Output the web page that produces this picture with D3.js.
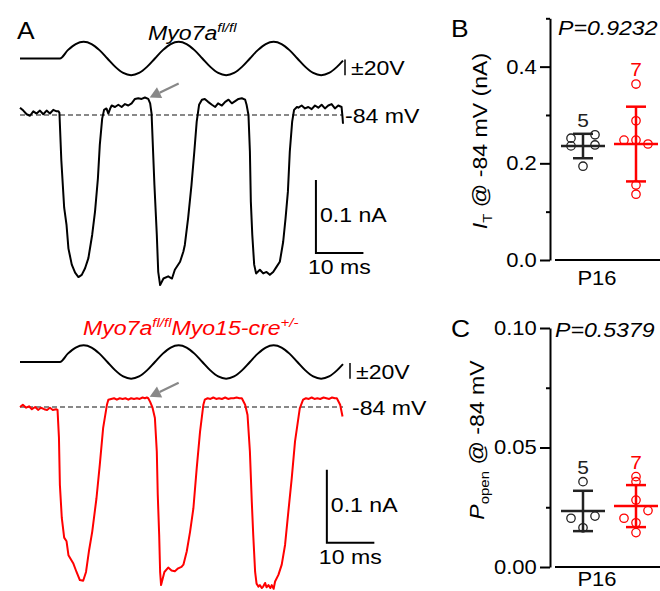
<!DOCTYPE html>
<html>
<head>
<meta charset="utf-8">
<script src="https://cdn.jsdelivr.net/npm/d3@7"></script>
<style>
  body { margin: 0; background: #fff; }
  svg { display: block; }
  text { font-family: "Liberation Sans", Arial, sans-serif; }
</style>
</head>
<body>
<div id="chart"></div>
<script>
const W = 660, H = 591;
const SX = 1.1;   // fonts in the original are a bit wide

// ---- panel A: sinusoidal bundle stimulus (V) ----
const stimT = [0, 8.4, 10.07, 11.73, 13.4, 15.07, 16.73, 18.4, 20.07, 21.73, 23.4, 25.07, 26.73,
  28.4, 30.07, 31.73, 33.4, 35.07, 36.73, 38.4, 40.07, 41.73, 43.4, 45.07, 46.73,
  48.4, 50.07, 51.73, 53.4, 55.07, 56.73, 58.4, 60.07, 61.73, 63.4, 65.07, 66.73, 68.0];
const stimV = [0, 0, 10, 17.3, 20, 17.3, 10, 0, -10, -17.3, -20, -17.3, -10,
  0, 10, 17.3, 20, 17.3, 10, 0, -10, -17.3, -20, -17.3, -10,
  0, 10, 17.3, 20, 17.3, 10, 0, -10, -17.3, -20, -17.3, -10, -2.5];

// ---- panel A: MET currents, [time ms, current pA relative to -84 mV line] ----
const ctrlTrace = [
  [0,10],[0.7,6],[1.4,1],[2.1,-1],[2.8,5],[3.5,2],[4.2,6],[4.9,1],[5.6,6],[6.3,2],[7.0,7],[7.7,5],[8.1,5],[8.3,3],
  [8.7,-62],[9.3,-127],[9.8,-151],[10.2,-183],[10.9,-205],[11.6,-216],[12.3,-222],[13.0,-219],[13.7,-210],[14.4,-196],
  [15.2,-164],[15.8,-132],[16.4,-87],[16.8,-41],[17.3,-5],[17.7,7],
  [18.2,9],[18.6,2],[19.0,9],[19.3,13],[20.0,11],[20.7,14],[21.4,11],[22.1,15],[22.8,13],[23.5,16],[24.2,22],[24.9,23],
  [25.6,22],[26.3,24],[27.0,22],[27.4,16],[27.7,2],
  [28.3,-96],[28.8,-164],[29.1,-215],[29.5,-233],[30.2,-224],[31.2,-221],[32.0,-224],[32.6,-212],[33.7,-201],[34.4,-187],
  [34.7,-178],[35.4,-141],[36.1,-96],[36.7,-50],[37.2,-9],[37.7,14],
  [38.3,21],[38.9,22],[39.6,18],[40.4,14],[41.1,11],[41.7,16],[42.5,13],[43.2,18],[43.9,21],[44.6,16],[45.3,19],[46.0,22],
  [46.7,23],[47.4,21],[47.7,14],[48.1,0],
  [48.4,-50],[48.6,-119],[48.9,-164],[49.3,-205],[49.7,-217],[50.5,-212],[51.2,-217],[51.9,-215],[52.6,-219],[53.3,-215],
  [54.0,-208],[54.7,-201],[55.4,-174],[55.9,-142],[56.4,-105],[56.8,-50],[57.3,-9],[57.7,7],[58.3,11],
  [58.6,10],[59.3,13],[60.0,9],[60.7,11],[61.4,8],[62.1,13],[62.8,10],[63.5,14],[64.2,9],[64.9,13],[65.6,15],[66.3,9],
  [67.0,13],[67.7,11],[67.9,-3],[68.0,-12]
];
const koTrace = [
  [0,0],[0.6,3],[1.3,-1],[1.9,1],[2.5,-3],[3.2,0],[3.8,-4],[4.4,-1],[5.1,-3],[5.7,-4],[6.3,-1],[6.9,-4],[7.6,-3],
  [7.9,-4],[8.2,-42],[8.4,-107],[8.8,-152],[9.3,-179],[9.8,-184],[10.2,-203],[11.2,-214],[11.9,-226],[12.6,-237],[13.3,-238],
  [13.9,-226],[14.5,-198],[15.2,-171],[16.1,-125],[16.8,-79],[17.5,-29],[18.3,3],[18.6,10],
  [19.2,11],[19.8,12],[20.4,10],[21.0,12],[21.6,11],[22.2,12],[22.8,10],[23.4,12],[24.0,11],[24.6,12],[25.2,11],[25.8,13],
  [26.3,12],[26.7,13],[27.0,12],[27.4,7],[27.9,-1],[28.4,-15],
  [28.8,-61],[29.0,-120],[29.3,-175],[29.5,-226],[29.7,-244],[30.4,-226],[31.2,-220],[31.9,-224],[32.6,-225],[33.3,-221],
  [34.0,-219],[34.4,-216],[35.1,-198],[35.8,-171],[36.5,-139],[37.2,-84],[37.9,-34],[38.6,3],[38.9,10],
  [39.5,12],[40.1,11],[40.7,13],[41.3,11],[41.9,12],[42.5,11],[43.2,13],[43.8,11],[44.4,12],[45.0,12],[45.6,13],[46.2,12],
  [46.7,12],[47.4,3],[47.9,-11],
  [48.4,-61],[48.8,-130],[49.1,-175],[49.5,-226],[49.8,-242],[50.2,-246],[50.5,-244],[50.9,-248],[51.2,-246],[51.6,-241],
  [51.9,-247],[52.3,-244],[52.7,-248],[53.0,-244],[53.4,-249],[53.7,-239],[54.4,-230],[55.1,-216],[55.8,-189],[56.5,-143],
  [57.2,-98],[57.9,-47],[58.9,-2],[59.6,10],
  [60.2,12],[60.8,11],[61.4,13],[62.0,11],[62.6,12],[63.2,11],[63.9,13],[64.5,12],[65.1,11],[65.7,13],[66.3,12],[66.7,12],
  [67.4,3],[67.9,-13]
];

// ---- panels B, C: summary data ----
const groups = ["fl/fl", "cre"];
const groupColors = ["#222", "#ff0000"];
const groupN = [5, 7];
const itValues = [[0.252, 0.259, 0.238, 0.194, 0.236],
                  [0.364, 0.288, 0.248, 0.248, 0.240, 0.155, 0.136]];
const itSlots  = [[-1, 1, 1, 0, -1], [0, 0, -1, 0, 1, 0, 0]];
const popenValues = [[0.0357, 0.0204, 0.0213, 0.0164],
                     [0.0378, 0.0357, 0.0280, 0.0204, 0.0236, 0.0185, 0.0144]];
const popenSlots  = [[0, -1, 1, 0], [0, 0, 0, -1, 1, 0, 0]];
const itTicksMajor = [0, 0.2, 0.4], itTicksMinor = [0.1, 0.3, 0.5];
const poTicksMajor = [0, 0.05, 0.10], poTicksMinor = [0.025, 0.075];

const svg = d3.select("#chart").append("svg").attr("width", W).attr("height", H);

function rich(g, x, y, parts, o = {}) {
  const size = o.size || 21;
  const t = g.append("text")
    .attr("transform", `translate(${x},${y}) rotate(${o.rot || 0}) scale(${SX},1)`)
    .attr("font-size", size)
    .attr("text-anchor", o.anchor || "start")
    .attr("fill", o.color || "#000")
    .attr("font-style", o.italic ? "italic" : "normal");
  let shift = 0;
  parts.forEach(p => {
    const [s, kind, style] = Array.isArray(p) ? p : [p];
    const ds = kind === "sup" ? -8 : kind === "sub" ? 5 : 0;
    t.append("tspan")
      .attr("dy", ds - shift)
      .attr("font-size", kind ? size * 0.65 : null)
      .attr("font-style", style || null)
      .text(s);
    shift = ds;
  });
  return t;
}

// ---------- Panel A ----------
const x = d3.scaleLinear().domain([0, 68]).range([20, 343]);

const tracePanels = [
  { trace: ctrlTrace, color: "#000", stimMid: 58.5, zero: 115, labelX: 345, barX: 345,
    title: [["Myo7a"], ["fl/fl", "sup"]], titleX: 148, titleY: 40,
    arrow: [27.3, 24], scale: [62.3, -189] },
  { trace: koTrace, color: "#ff0000", stimMid: 362, zero: 407, labelX: 352, barX: 350,
    title: [["Myo7a"], ["fl/fl", "sup"], ["Myo15-cre"], ["+/-", "sup"]], titleX: 83, titleY: 335,
    arrow: [27.3, 14], scale: [64.6, -186] }
];

rich(svg, 17, 39, ["A"], { size: 24 });

tracePanels.forEach(p => {
  const g = svg.append("g");
  const yV = d3.scaleLinear().domain([0, 20]).range([p.stimMid, p.stimMid - 16.75]);
  const yI = d3.scaleLinear().domain([0, 100]).range([p.zero, p.zero - 73]);

  rich(g, p.titleX, p.titleY, p.title, { italic: true, color: p.color });

  // stimulus
  g.append("path")
    .datum(stimT.map((t, i) => [t, stimV[i]]))
    .attr("fill", "none").attr("stroke", "#000").attr("stroke-width", 2)
    .attr("d", d3.line().x(d => x(d[0])).y(d => yV(d[1])).curve(d3.curveMonotoneX));
  g.append("line")
    .attr("x1", p.barX).attr("x2", p.barX)
    .attr("y1", yV(0) + 1).attr("y2", yV(-20))
    .attr("stroke", "#000").attr("stroke-width", 1.5);
  rich(g, p.barX + 6, yV(-20), ["±20V"]);

  // -84 mV zero line
  g.append("line")
    .attr("x1", x(0)).attr("x2", x(68))
    .attr("y1", yI(0)).attr("y2", yI(0))
    .attr("stroke", "#888").attr("stroke-width", 2).attr("stroke-dasharray", "5,3");
  rich(g, p.labelX, yI(0) + 7.5, ["-84 mV"]);

  // current trace
  g.append("path")
    .datum(p.trace)
    .attr("fill", "none").attr("stroke", p.color).attr("stroke-width", 2)
    .attr("stroke-linejoin", "round")
    .attr("d", d3.line().x(d => x(d[0])).y(d => yI(d[1])));

  // arrow to the open plateau
  const tx = x(p.arrow[0]), ty = yI(p.arrow[1]);
  const sx = tx + 29, sy = ty - 14;
  const len = Math.hypot(sx - tx, sy - ty);
  const ux = (sx - tx) / len, uy = (sy - ty) / len;
  const bx = tx + ux * 11, by = ty + uy * 11;
  g.append("line").attr("x1", sx).attr("y1", sy).attr("x2", bx).attr("y2", by)
    .attr("stroke", "#888").attr("stroke-width", 2.2);
  g.append("polygon")
    .attr("points", [[tx, ty], [bx - uy * 6, by + ux * 6], [bx + uy * 6, by - ux * 6]].map(d => d.join(",")).join(" "))
    .attr("fill", "#888");

  // scale bars 10 ms / 0.1 nA
  const [t0, i0] = p.scale;
  g.append("path")
    .attr("d", `M${x(t0)},${yI(i0 + 100)}V${yI(i0)}H${x(t0 + 10)}`)
    .attr("fill", "none").attr("stroke", "#000").attr("stroke-width", 2);
  rich(g, x(t0) + 4, yI(i0 + 100) + 42, ["0.1 nA"]);
  rich(g, x(t0) - 8, yI(i0) + 21, ["10 ms"]);
});

// ---------- Panels B and C ----------
const gx = d3.scalePoint().domain(groups).range([583, 636]);

const statPanels = [
  { letter: "B", letterY: 37, values: itValues, slots: itSlots, domain: [0, 0.5], range: [260, 18.3],
    major: itTicksMajor, minor: itTicksMinor, fmt: ".1f", p: "P=0.9232", pX: 558, pY: 35, xlabDy: 25,
    ylab: [["I", null, "italic"], ["T", "sub"], [" @ -84 mV (nA)"]], ylabX: 487, ylabY: 141 },
  { letter: "C", letterY: 337, values: popenValues, slots: popenSlots, domain: [0, 0.10], range: [567, 328],
    major: poTicksMajor, minor: poTicksMinor, fmt: ".2f", p: "P=0.5379", pX: 555, pY: 337, xlabDy: 19,
    ylab: [["P", null, "italic"], ["open", "sub"], [" @ -84 mV"]], ylabX: 484, ylabY: 440 }
];

statPanels.forEach(s => {
  const g = svg.append("g");
  const y = d3.scaleLinear().domain(s.domain).range(s.range);
  const y0 = y(0);

  rich(g, 451, s.letterY, [s.letter], { size: 24 });
  rich(g, s.pX, s.pY, [s.p], { italic: true, size: 21 });
  rich(g, s.ylabX, s.ylabY, s.ylab, { rot: -90, anchor: "middle", size: 21 });

  const axMajor = g.append("g").attr("transform", "translate(550,0)")
    .call(d3.axisLeft(y).tickValues(s.major).tickSize(10).tickSizeOuter(0).tickPadding(2)
      .tickFormat(d3.format(s.fmt)));
  const axMinor = g.append("g").attr("transform", "translate(550,0)")
    .call(d3.axisLeft(y).tickValues(s.minor).tickSize(4).tickSizeOuter(0).tickFormat(""));
  [axMajor, axMinor].forEach(a => {
    a.attr("font-family", null).attr("font-size", null);
    a.selectAll("path, line").attr("stroke", "#000").attr("stroke-width", 2);
  });
  axMinor.select(".domain").remove();
  axMajor.selectAll("text")
    .attr("font-size", 20).attr("fill", "#000")
    .attr("transform", `scale(${SX},1)`);

  // x axis
  g.append("line").attr("x1", 555).attr("x2", 660).attr("y1", y0).attr("y2", y0)
    .attr("stroke", "#000").attr("stroke-width", 2);
  rich(g, 597, y0 + s.xlabDy, ["P16"], { anchor: "middle", size: 20 });

  groups.forEach((grp, gi) => {
    const vals = s.values[gi];
    const col = groupColors[gi];
    const cx = gx(grp);
    const m = d3.mean(vals), sd = d3.deviation(vals);

    g.selectAll(null).data(vals).enter().append("circle")
      .attr("cx", (d, i) => cx + s.slots[gi][i] * 12)
      .attr("cy", d => y(d))
      .attr("r", 4.2)
      .attr("fill", "none").attr("stroke", col).attr("stroke-width", 1.3);

    const eb = g.append("g").attr("stroke", col).attr("stroke-width", 2.5).attr("fill", "none");
    eb.append("line").attr("x1", cx).attr("x2", cx).attr("y1", y(m + sd)).attr("y2", y(m - sd));
    eb.append("line").attr("x1", cx - 10).attr("x2", cx + 10).attr("y1", y(m + sd)).attr("y2", y(m + sd));
    eb.append("line").attr("x1", cx - 10).attr("x2", cx + 10).attr("y1", y(m - sd)).attr("y2", y(m - sd));
    eb.append("line").attr("x1", cx - 22).attr("x2", cx + 22).attr("y1", y(m)).attr("y2", y(m));

    rich(g, cx, y(d3.max(vals)) - 8, [String(groupN[gi])], { anchor: "middle", size: 19, color: col });
  });
});
</script>
</body>
</html>
